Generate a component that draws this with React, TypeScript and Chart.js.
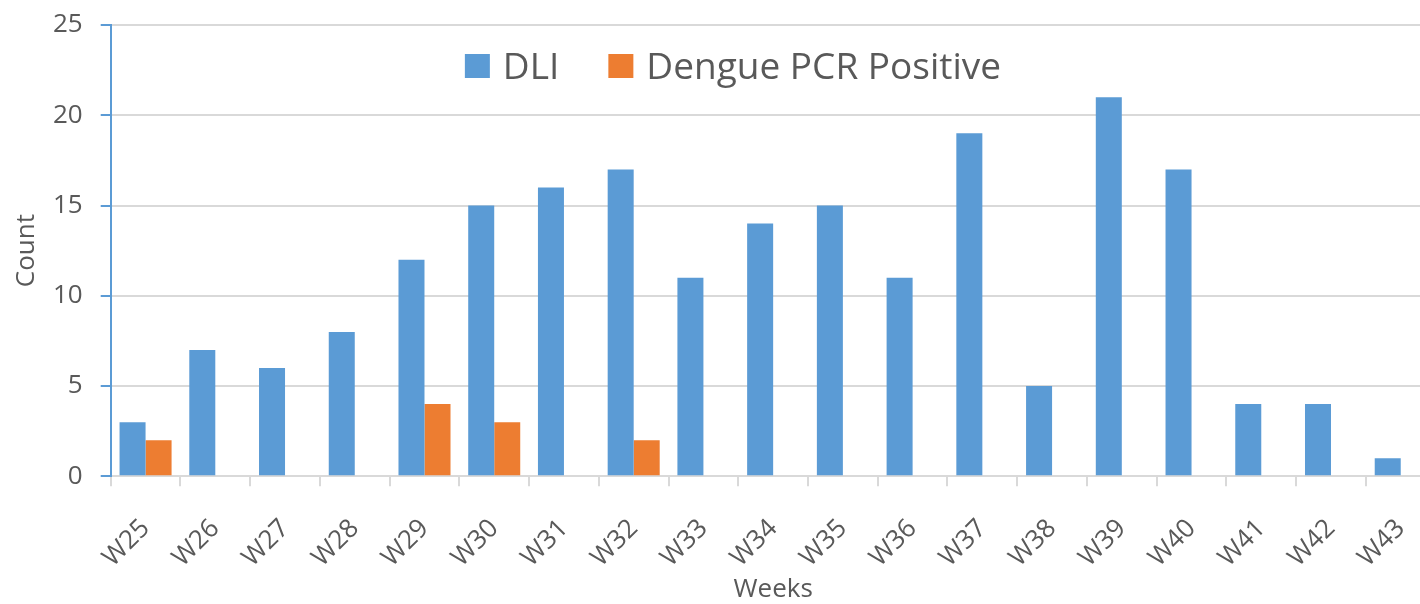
import React, { useEffect, useRef } from "react";
import { Chart, registerables } from "chart.js";

Chart.register(...registerables);

const weeks = ["W25","W26","W27","W28","W29","W30","W31","W32","W33","W34","W35","W36","W37","W38","W39","W40","W41","W42","W43"];
const dliValues = [3,7,6,8,12,15,16,17,11,14,15,11,19,5,21,17,4,4,1];
const pcrValues = [2,0,0,0,4,3,0,2,0,0,0,0,0,0,0,0,0,0,0];
const yTicks = [0,5,10,15,20,25];

const TEXT = "#595959";
const FONT = '"Open Sans", "DejaVu Sans", sans-serif';

const inlineLegend = {
  id: "inlineLegend",
  afterDraw(chart: any) {
    const ctx = chart.ctx;
    ctx.save();
    ctx.font = `37px ${FONT}`;
    ctx.textBaseline = "alphabetic";
    ctx.textAlign = "left";
    const box = 25, boxH = 24, gapText = 13, gapItem = 49;
    const items = chart.data.datasets.map((d: any) => ({ label: d.label, color: d.backgroundColor, w: ctx.measureText(d.label).width }));
    let total = 0;
    items.forEach((it: any, i: number) => { total += box + gapText + it.w + (i > 0 ? gapItem : 0); });
    let x = 733 - total / 2;
    const baseline = 79;
    items.forEach((it: any) => {
      ctx.fillStyle = it.color;
      ctx.fillRect(x, 54, box, boxH);
      ctx.fillStyle = TEXT;
      ctx.fillText(it.label, x + box + gapText, baseline);
      x += box + gapText + it.w + gapItem;
    });
    ctx.restore();
  },
};

export default function App() {
  const ref = useRef<HTMLCanvasElement>(null);
  useEffect(() => {
    if (!ref.current) return;
    const chart = new Chart(ref.current, {
      type: "bar",
      data: {
        labels: weeks,
        datasets: [
          { label: "DLI", data: dliValues, backgroundColor: "#5B9BD5", borderWidth: 0 },
          { label: "Dengue PCR Positive", data: pcrValues, backgroundColor: "#ED7D31", borderWidth: 0 },
        ],
      },
      plugins: [inlineLegend],
      options: {
        responsive: false,
        animation: false,
        devicePixelRatio: 1,
        layout: { padding: { left: 0, top: 25, right: 4.4, bottom: 0 } },
        datasets: { bar: { categoryPercentage: 0.746, barPercentage: 1 } },
        plugins: { legend: { display: false }, tooltip: { enabled: false } },
        scales: {
          x: {
            afterFit: (s: any) => { s.height = 127.7; s.paddingLeft = 0; s.paddingRight = 0; },
            grid: { display: true, drawOnChartArea: false, drawTicks: true, tickLength: 10, color: "#d9d9d9", lineWidth: 2, offset: true },
            border: { display: true, color: "#d9d9d9", width: 2 },
            ticks: { color: TEXT, font: { family: FONT, size: 26 }, minRotation: 45, maxRotation: 45, padding: 27, autoSkip: false },
            title: { display: true, text: "Weeks", color: TEXT, font: { family: FONT, size: 26, lineHeight: 1 }, padding: { top: 0, bottom: 1 } },
          },
          y: {
            min: 0,
            max: 25,
            afterFit: (s: any) => { s.width = 110.7; s.paddingTop = 0; s.paddingBottom = 0; },
            afterBuildTicks: (s: any) => { s.ticks = yTicks.map((v) => ({ value: v })); },
            grid: { color: "#d9d9d9", lineWidth: 2, drawTicks: true, tickLength: 10, tickColor: "#5B9BD5", tickWidth: 2 },
            border: { display: true, color: "#5B9BD5", width: 2 },
            ticks: { color: TEXT, font: { family: FONT, size: 26 }, padding: 18 },
            title: { display: true, text: "Count", color: TEXT, font: { family: FONT, size: 26, lineHeight: 1 }, padding: { top: 14, bottom: 0 } },
          },
        },
      },
    } as any);
    return () => chart.destroy();
  }, []);
  return (
    <div style={{ position: "fixed", left: 0, top: 0, width: 1420, height: 604, overflow: "hidden", background: "#fff" }}>
      <canvas ref={ref} width={1440} height={604} style={{ width: 1440, height: 604, display: "block" }} />
    </div>
  );
}
